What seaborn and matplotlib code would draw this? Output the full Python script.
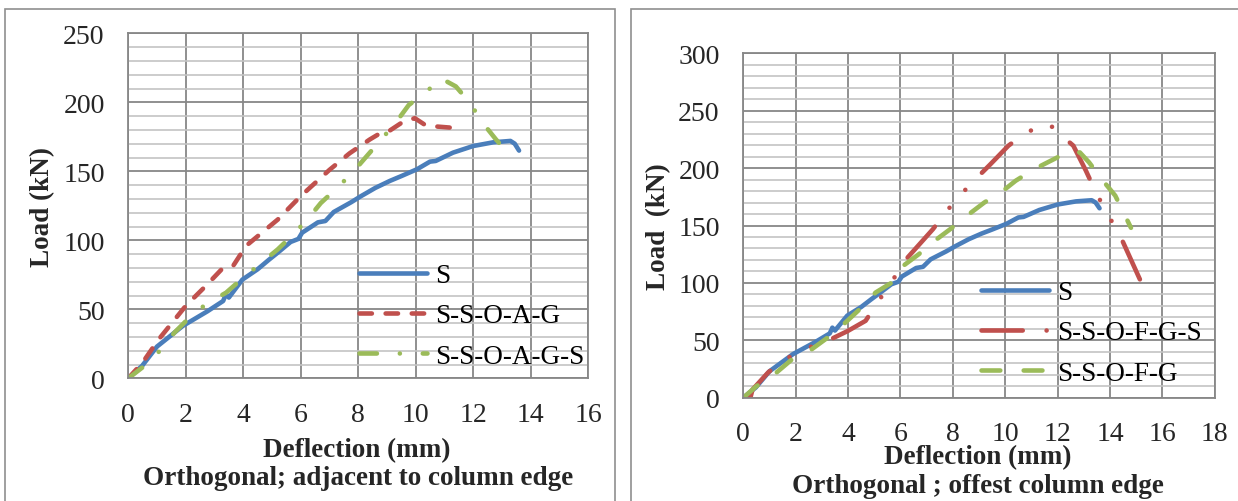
import numpy as np
import pandas as pd
import seaborn as sns
import matplotlib
matplotlib.use("Agg")
import matplotlib.pyplot as plt
from matplotlib.patches import Rectangle
from matplotlib.ticker import MultipleLocator

# ---------------- data ----------------
# Control specimen S (same curve in both panels)
s_x = [0, 0.48, 1.0, 1.9, 2.75, 3.3, 3.4, 3.5, 3.97, 4.5, 4.9, 5.2, 5.65, 5.92, 6.05,
       6.6, 6.86, 7.15, 7.75, 8.1, 8.6, 9.1, 9.5, 10.05, 10.5, 10.7, 11.3, 12.0, 12.7,
       13.3, 13.45, 13.6]
s_y = [0, 9, 23, 38, 48.5, 56, 61, 58.5, 71.5, 79, 86, 91, 98.8, 101, 105.5,
       113, 114, 120.5, 127.5, 132, 138, 143, 146.5, 151.5, 157, 157.5, 163.5, 168.3, 171,
       172, 170, 165]

# Left panel: S-S-O-A-G
oag_x = [0, 0.5, 1.05, 2.0, 2.7, 3.25, 3.5, 3.65, 4.1, 5.2, 6.0, 7.0, 7.7, 8.4, 8.8,
         9.1, 9.5, 9.97, 10.3, 10.7, 11.3]
oag_y = [0, 11.5, 28, 52.5, 67, 79, 81, 81.5, 96, 115, 132, 151, 163, 173, 178,
         179.5, 185, 188.5, 184, 182.5, 181.5]

# Left panel: S-S-O-A-G-S
oags_x = [0, 0.5, 1.1, 1.6, 2.08, 2.7, 3.4, 3.95, 4.57, 5.2, 5.68, 6.23, 6.7, 7.27, 7.8,
          8.3, 8.8, 9.3, 9.76, 10.4, 10.87, 11.4, 11.9, 12.3, 12.8, 13.16]
oags_y = [0, 8, 20, 33, 43, 53.7, 62, 72, 82.6, 93.4, 103, 115, 127, 138, 149,
          161, 173, 185, 198, 208, 217.5, 211.5, 199.4, 186, 173, 164.5]

# Right panel: S-S-O-F-G-S
ofgs_x = [0, 0.27, 0.35, 0.95, 1.48, 2.3, 3.2, 3.98, 4.67, 5.12, 5.65, 6.1, 7.24, 7.77,
          8.38, 8.98, 9.44, 10.12, 10.8, 11.64, 12.17, 12.6, 13.08, 13.45, 13.9, 14.36,
          15.05, 15.4]
ofgs_y = [0, 0, 7, 22, 32, 42, 49.4, 58, 67, 83, 100, 117.7, 146.8, 162.8,
          178.8, 193, 203.5, 219.5, 231, 239, 228, 219.5, 197.7, 179.4, 160, 142.4,
          107.6, 90]

# Right panel: S-S-O-F-G
ofg_x = [0, 0.5, 1.26, 1.86, 2.6, 3.2, 3.83, 4.44, 5.05, 5.65, 6.1, 6.7, 7.3, 7.9,
         8.53, 9.2, 9.9, 10.4, 11.1, 11.86, 12.47, 12.85, 13.2, 13.68, 14.2, 14.8]
ofg_y = [0, 10, 21.8, 33.4, 42, 52, 64, 77, 91.6, 100, 114.8, 125, 136.6, 146.8,
         158.4, 170, 180, 189, 199, 207.8, 215, 213.6, 205, 190.4, 176, 148]

left_labels = ["S", "S-S-O-A-G", "S-S-O-A-G-S"]
right_labels = ["S", "S-S-O-F-G-S", "S-S-O-F-G"]
left_xticks = list(range(0, 17, 2))
right_xticks = list(range(0, 19, 2))
left_yticks = list(range(0, 251, 50))
right_yticks = list(range(0, 301, 50))

# ---------------- style ----------------
sns.set_style("white")
plt.rcParams["font.family"] = ["Liberation Serif", "DejaVu Serif"]

BLUE = "#4A7EBB"
RED = "#C0504D"
GREEN = "#9BBB59"
LW = 3.3
FS_TICK = 20
FS_LAB = 19.5
FS_LEG = 19.5
MAJ = "#878787"
MIN = "#c3c3c3"

W, H = 1238, 502
fig = plt.figure(figsize=(W / 100, H / 100), dpi=100)


def fx(px):
    return px / W


def fy(py):
    return 1 - py / H


# panel borders
fig.add_artist(Rectangle((fx(4.5), fy(540)), fx(614.7 - 4.5), (540 - 9.5) / H,
                         transform=fig.transFigure, fill=False, ec="#8f8f8f", lw=1.2))
fig.add_artist(Rectangle((fx(630.7), fy(540)), fx(1300 - 630.7), (540 - 9.5) / H,
                         transform=fig.transFigure, fill=False, ec="#8f8f8f", lw=1.2))

axL = fig.add_axes([fx(128.3), fy(379.3), fx(588 - 128.3), (379.3 - 34.3) / H])
axR = fig.add_axes([fx(743.3), fy(398.7), fx(1214.8 - 743.3), (398.7 - 54.3) / H])


def draw(ax, x, y, color, ls, label):
    sns.lineplot(x=x, y=y, ax=ax, color=color, lw=LW, sort=False, estimator=None,
                 label=label, linestyle=ls)
    ln = ax.lines[-1]
    ln.set_solid_capstyle("round")
    ln.set_dash_capstyle("round")
    ln.set_solid_joinstyle("round")
    return ln


def style_axes(ax, xmax, ymax, xticks, yticks):
    ax.set_xlim(0, xmax)
    ax.set_ylim(0, ymax)
    ax.set_xticks(xticks)
    ax.set_yticks(yticks)
    ax.yaxis.set_minor_locator(MultipleLocator(10))
    ax.set_axisbelow(True)
    ax.grid(which="major", axis="both", color=MAJ, lw=1.3)
    ax.grid(which="minor", axis="y", color=MIN, lw=1.2)
    for sp in ax.spines.values():
        sp.set_color(MAJ)
        sp.set_linewidth(1.3)
    ax.tick_params(axis="both", which="both", length=0, labelsize=FS_TICK)
    ax.tick_params(axis="y", pad=17)
    ax.tick_params(axis="x", pad=17)
    ax.set_xlabel("")
    ax.set_ylabel("")


# left panel
hL = [draw(axL, s_x, s_y, BLUE, "-", left_labels[0]),
      draw(axL, oag_x, oag_y, RED, (0, (2.7, 3.0)), left_labels[1]),
      draw(axL, oags_x, oags_y, GREEN, (0, (3.8, 5.0, 0.01, 5.0)), left_labels[2])]
style_axes(axL, 16, 250, left_xticks, left_yticks)

# right panel
hR = [draw(axR, s_x, s_y, BLUE, "-", right_labels[0]),
      draw(axR, ofgs_x, ofgs_y, RED, (0, (9.0, 5.2, 0.01, 5.2, 0.01, 5.2)), right_labels[1]),
      draw(axR, ofg_x, ofg_y, GREEN, (0, (4.1, 5.1)), right_labels[2])]
style_axes(axR, 18, 300, right_xticks, right_yticks)

for ax, handles, labels, anchor in [
    (axL, hL, left_labels, (fx(359), fy(317))),
    (axR, hR, right_labels, (fx(981), fy(334))),
]:
    leg = ax.legend(handles, labels, loc="center left", bbox_to_anchor=anchor,
                    bbox_transform=fig.transFigure, frameon=False, fontsize=FS_LEG,
                    handlelength=2.5, handletextpad=0.3, labelspacing=0.56,
                    borderpad=0, borderaxespad=0)
    for t in leg.get_texts():
        t.set_color("black")

# axis titles
bold = dict(fontsize=FS_LAB, fontweight="bold", ha="center", va="center")
fig.text(fx(357), fy(451), "Deflection (mm)", **bold)
fig.text(fx(358.5), fy(479), "Orthogonal; adjacent to column edge", **bold)
fig.text(fx(43), fy(207), "Load (kN)", rotation=90, **bold)

fig.text(fx(978), fy(458), "Deflection (mm)", **bold)
fig.text(fx(978), fy(487), "Orthogonal ; offest column edge", **bold)
fig.text(fx(659), fy(227), "Load  (kN)", rotation=90, **bold)

fig.savefig("out.png", dpi=100)
